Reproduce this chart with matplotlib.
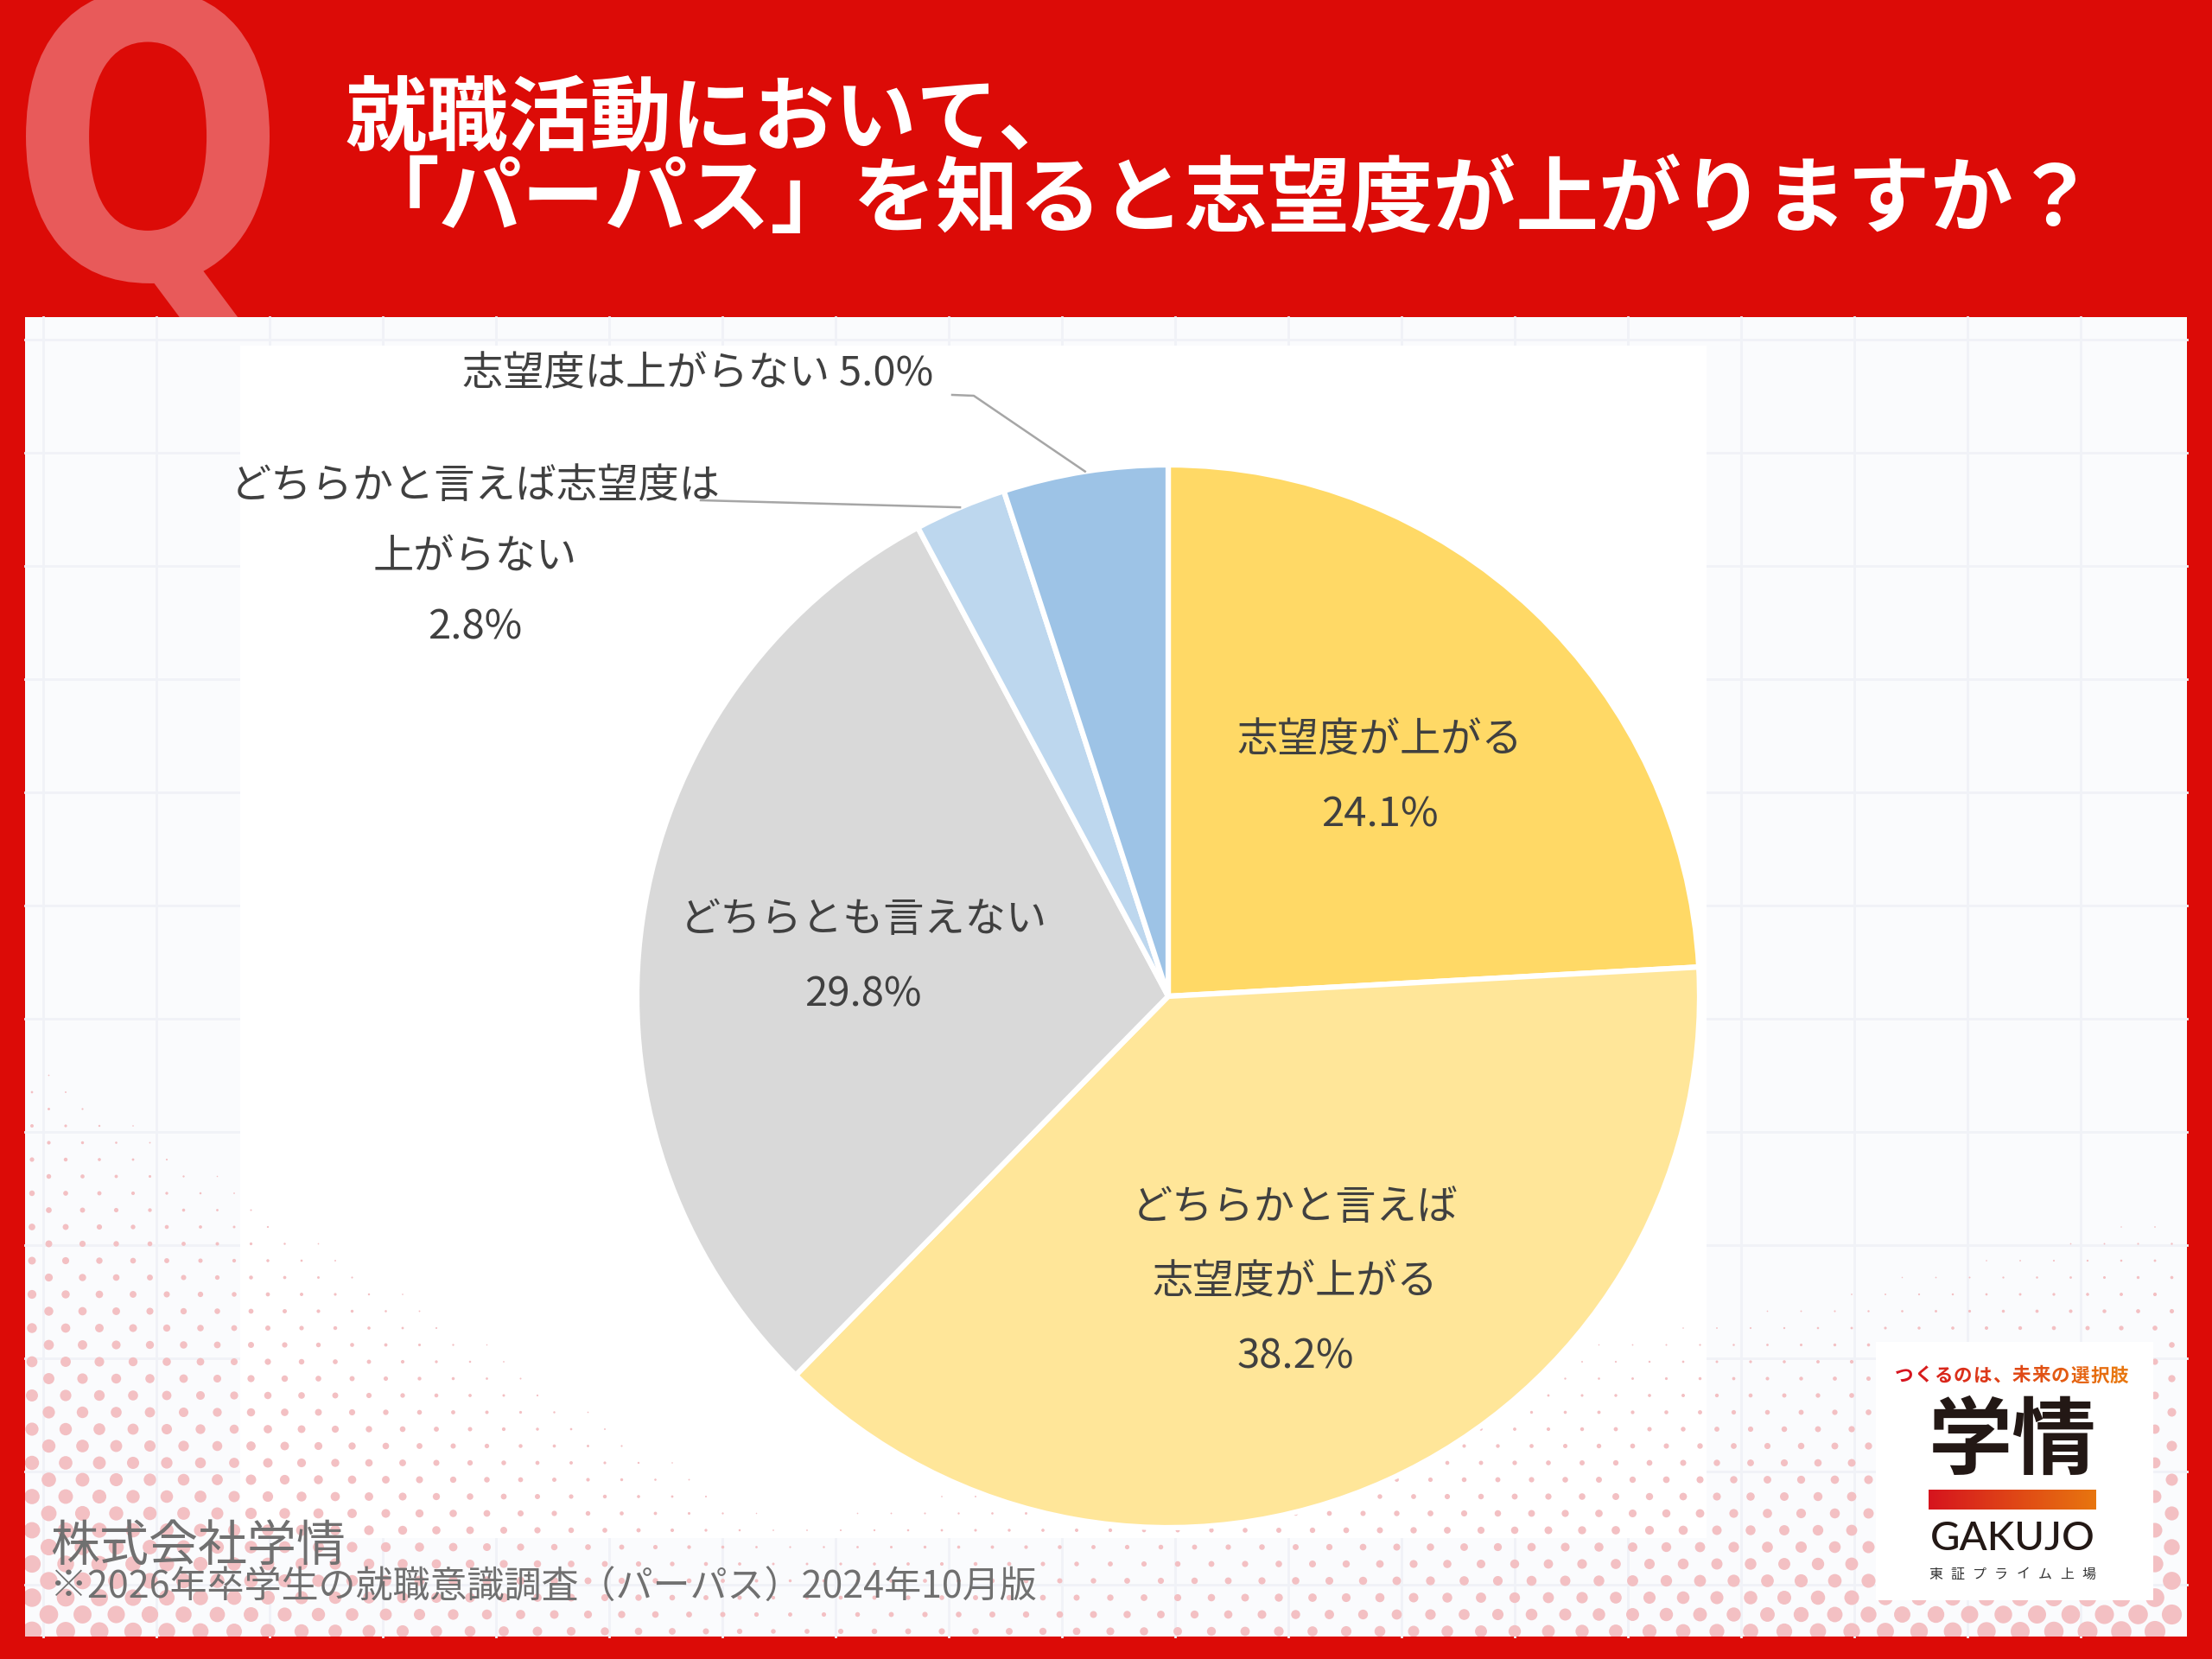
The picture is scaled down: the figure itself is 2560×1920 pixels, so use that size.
import numpy as np
import matplotlib
matplotlib.use("Agg")
import matplotlib.pyplot as plt
from matplotlib.patches import Rectangle, PathPatch
from matplotlib.textpath import TextPath
from matplotlib.font_manager import FontProperties
from matplotlib.transforms import Affine2D
from matplotlib.colors import to_rgb

plt.rcParams['font.family'] = ['Noto Sans CJK JP', 'DejaVu Sans']

# ---------------- data ----------------
categories = ["志望度が上がる", "どちらかと言えば\n志望度が上がる", "どちらとも言えない",
              "どちらかと言えば志望度は\n上がらない", "志望度は上がらない"]
values = [24.1, 38.2, 29.8, 2.8, 5.0]
slice_colors = ["#FFD966", "#FFE699", "#D9D9D9", "#BDD7EE", "#9DC3E6"]
title_lines = ["就職活動において、", "「パーパス」を知ると志望度が上がりますか？"]
company = "株式会社学情"
source_note = "※2026年卒学生の就職意識調査（パーパス）2024年10月版"
tagline = "つくるのは、未来の選択肢"
logo_main = "学情"
logo_en = "GAKUJO"
logo_sub = "東証プライム上場"

W, H = 2560, 1920
def Y(y):
    return H - y

RED = "#DC0B07"
TXT = "#404040"

fig = plt.figure(figsize=(25.6, 19.2), dpi=100)
fig.patch.set_facecolor(RED)
ax = fig.add_axes([0, 0, 1, 1])
ax.set_xlim(0, W)
ax.set_ylim(0, H)
ax.axis('off')

# ---------------- big Q ----------------
tp = TextPath((0, 0), "Q", size=100, prop=FontProperties(family='DejaVu Sans', weight='bold'))
ext = tp.get_extents()
sx = (312 - 30) / ext.width
sy = (335) / ext.y1  # baseline -> y_img 322, top -> y_img -13
tr = Affine2D().translate(-ext.x0, 0).scale(sx, sy).translate(30, Y(322))
qpatch = PathPatch(tr.transform_path(tp), facecolor="#E85A5A", edgecolor='none', zorder=1)
ax.add_patch(qpatch)

# ---------------- title ----------------
ax.text(400, Y(139), title_lines[0], color='white', fontsize=68, fontweight='bold',
        ha='left', va='center', zorder=3)
ax.text(413, Y(233), title_lines[1], color='white', fontsize=69, fontweight='bold',
        ha='left', va='center', zorder=3)

# ---------------- panel ----------------
px0, py0_img, px1, py1_img = 29, 367, 2531, 1894
panel = Rectangle((px0, Y(py1_img)), px1 - px0, py1_img - py0_img,
                  facecolor="#FAFBFD", edgecolor='none', zorder=2)
ax.add_patch(panel)
# faint grid
for gx in np.arange(50, px1, 131):
    ax.plot([gx, gx], [Y(py1_img), Y(py0_img)], color="#F0F2F7", lw=2.0, zorder=2.1)
for gy in np.arange(393, py1_img, 131):
    ax.plot([px0, px1], [Y(gy), Y(gy)], color="#F0F2F7", lw=2.0, zorder=2.1)

# chart white area
ax.add_patch(Rectangle((278, Y(1780)), 1975 - 278, 1780 - 400,
                       facecolor='white', edgecolor='none', zorder=2.2))

# halftone dots (decoration)
dx_list, dy_list, ds = [], [], []
row = 0
yy = py1_img - 6
while yy > 1150:
    off = 0 if row % 2 == 0 else 19.5
    xx = px0 + 8 + off
    while xx < px1:
        dxl, dyl = xx - px0, py1_img - yy
        fL = 1 - dxl / 1150 - dyl / 720
        dL = 23 * fL if fL > 0 else 0
        dxr, dyr = px1 - xx, py1_img - yy
        fR = 1 - dxr / 2600 - dyr / 580
        dR = 25 * fR ** 1.5 if fR > 0 else 0
        d = max(dL, dR)
        if d > 1.5:
            dx_list.append(xx); dy_list.append(Y(yy)); ds.append(d)
        xx += 39
    yy -= 19.5
    row += 1
ds = np.array(ds)
sc = ax.scatter(dx_list, dy_list, s=(ds * 0.72) ** 2, color="#F3C0C3", edgecolors='none', zorder=2.3)
sc.set_clip_path(panel)

# ---------------- pie ----------------
cx, cy, R = 1352, Y(1153), 615
wedges, _ = ax.pie(values, colors=slice_colors, startangle=90, counterclock=False,
                   center=(cx, cy), radius=R, frame=True,
                   wedgeprops=dict(edgecolor='white', linewidth=4.5))
for w in wedges:
    w.set_zorder(3)
ax.set_xlim(0, W)
ax.set_ylim(0, H)
ax.set_aspect('auto')
ax.axis('off')

line_gap = 86
def mid_angle(w):
    return np.deg2rad((w.theta1 + w.theta2) / 2)

for i in range(3):
    a = mid_angle(wedges[i])
    tx = cx + 0.58 * R * np.cos(a)
    ty = cy + 0.58 * R * np.sin(a) - 6
    lines = categories[i].split("\n") + [f"{values[i]:.1f}%"]
    n = len(lines)
    for k, ln in enumerate(lines):
        ax.text(tx, ty + ((n - 1) / 2 - k) * line_gap, ln, color=TXT, fontsize=34,
                ha='center', va='center', zorder=4)

# outside label: 5.0%
a5 = mid_angle(wedges[4])
p5 = (cx + R * np.cos(a5), cy + R * np.sin(a5))
ax.text(808, Y(433), f"{categories[4]} {values[4]:.1f}%", color=TXT, fontsize=34,
        ha='center', va='center', zorder=4)
ax.plot([1102, 1127, p5[0]], [Y(457), Y(458), p5[1]], color="#A6A6A6", lw=1.8, zorder=3.5)

# outside label: 2.8%
a3 = mid_angle(wedges[3])
p3 = (cx + R * np.cos(a3), cy + R * np.sin(a3))
lines3 = categories[3].split("\n") + [f"{values[3]:.1f}%"]
for ln, yi in zip(lines3, [563, 645, 726]):
    ax.text(550, Y(yi), ln, color=TXT, fontsize=34, ha='center', va='center', zorder=4)
ax.plot([811, p3[0]], [Y(579), p3[1]], color="#A6A6A6", lw=1.8, zorder=3.5)

# ---------------- footer ----------------
ax.text(58, Y(1790), company, color="#707070", fontsize=41, ha='left', va='center', zorder=4)
ax.text(58, Y(1838), source_note, color="#707070", fontsize=31, ha='left', va='center', zorder=4)

# ---------------- logo ----------------
ax.add_patch(Rectangle((2171, Y(1852)), 2492 - 2171, 1852 - 1553,
                       facecolor='white', edgecolor='none', zorder=4))
c0, c1 = np.array(to_rgb("#D6141E")), np.array(to_rgb("#E8760F"))
n = len(tagline)
for i, ch in enumerate(tagline):
    t = i / (n - 1)
    ax.text(2204 + i * 22.6, Y(1592), ch, color=tuple(c0 * (1 - t) + c1 * t), fontsize=15.5,
            fontweight='bold', ha='center', va='center', zorder=5)
ax.text(2329, Y(1669), logo_main, color="#231815", fontsize=70, fontweight='bold',
        ha='center', va='center', zorder=5)
grad = np.linspace(0, 1, 256)[None, :, None]
grad_img = c0[None, None, :] * (1 - grad) + c1[None, None, :] * grad
ax.imshow(grad_img, extent=(2232, 2426, Y(1747), Y(1724)), aspect='auto', zorder=5,
          interpolation='bilinear')
ax.text(2329, Y(1781), logo_en, color="#231815", fontsize=34, fontfamily='Lato',
        fontweight='medium', ha='center', va='center', zorder=5)
for i, ch in enumerate(logo_sub):
    ax.text(2240 + i * 25.4, Y(1822), ch, color="#333333", fontsize=11.5,
            ha='center', va='center', zorder=5)

ax.set_xlim(0, W)
ax.set_ylim(0, H)
ax.set_aspect('auto')
fig.savefig("out.png", dpi=100, facecolor=fig.get_facecolor())
